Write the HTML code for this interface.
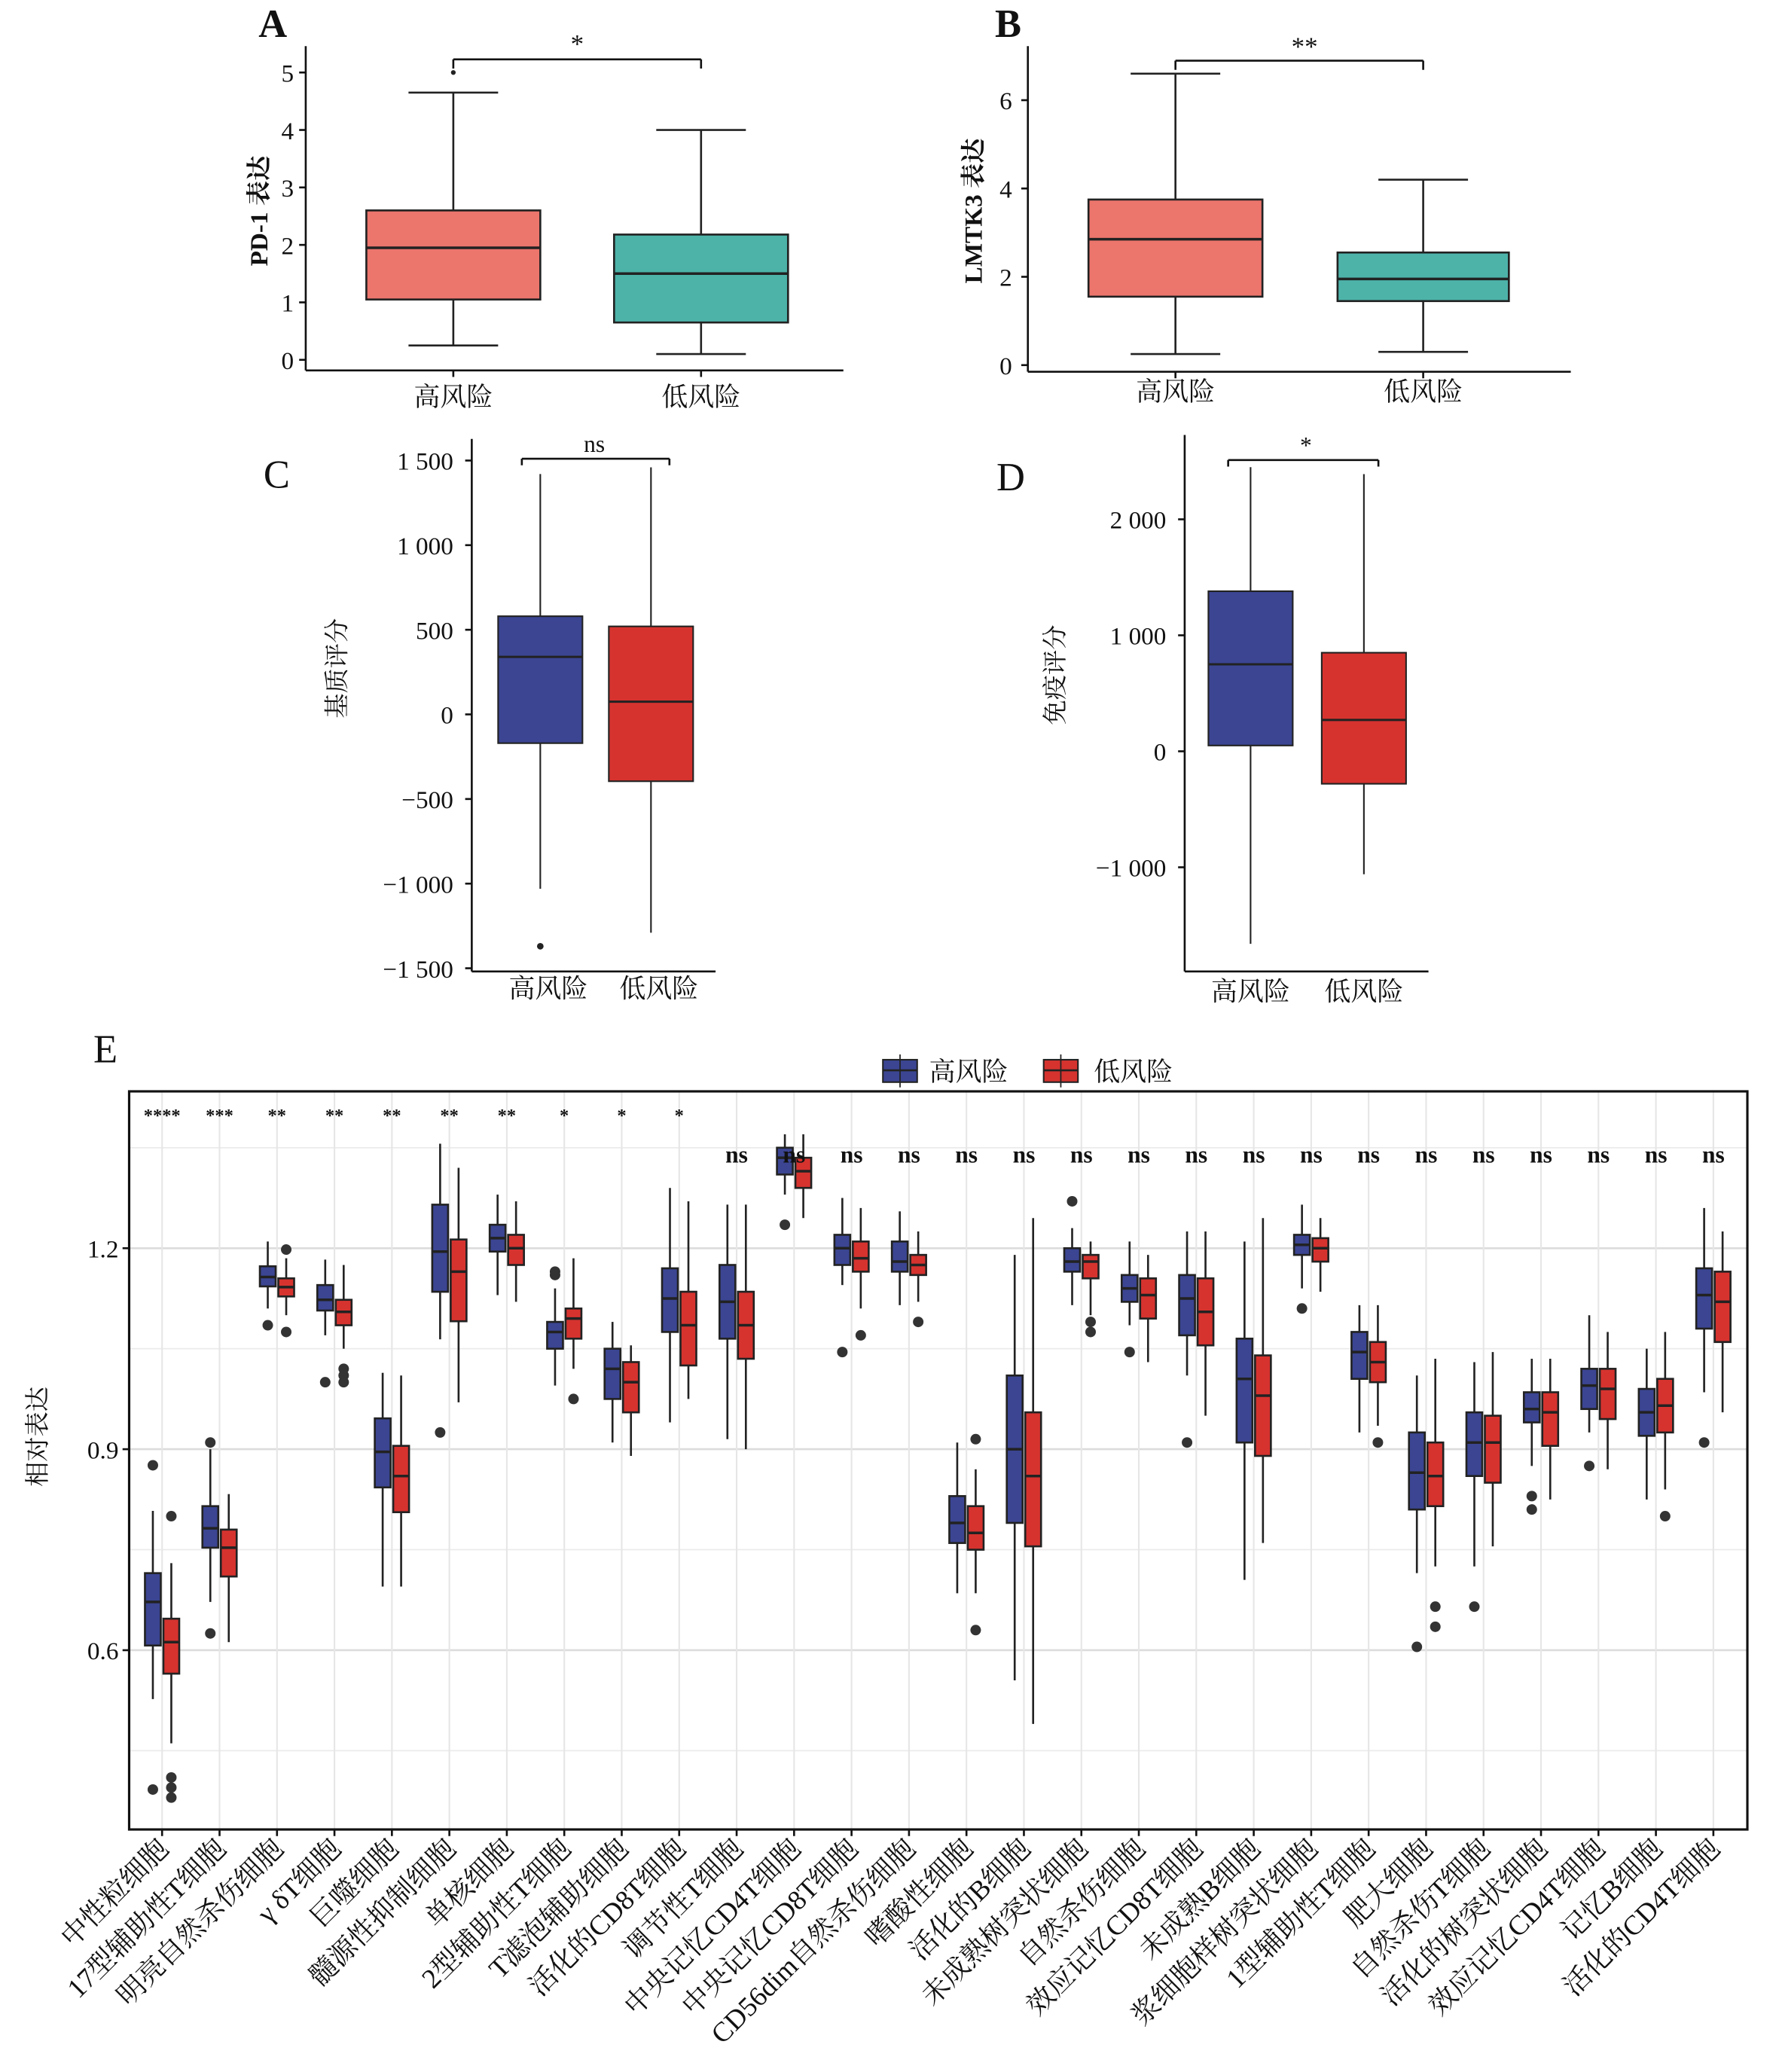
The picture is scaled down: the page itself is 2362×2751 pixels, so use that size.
<!DOCTYPE html>
<html><head><meta charset="utf-8"><style>
html,body{margin:0;padding:0;background:#fff}
svg{display:block}
text{font-family:"Liberation Serif","Noto Serif CJK SC","Noto Sans CJK SC",serif;fill:#111}
</style></head><body>
<svg id="s" xmlns="http://www.w3.org/2000/svg" width="2362" height="2751" viewBox="0 0 1350 1572" preserveAspectRatio="none"></svg>
<script>
const S=document.getElementById('s');const NS='http://www.w3.org/2000/svg';
function el(t,a,txt){const e=document.createElementNS(NS,t);for(const k in a)e.setAttribute(k,a[k]);if(txt!==undefined)e.textContent=txt;S.appendChild(e);return e;}
function line(x1,y1,x2,y2,c,w){el('line',{x1,y1,x2,y2,stroke:c||'#111','stroke-width':w||1.5});}
function txt(x,y,s,sz,anc,extra){const a={x,y,'font-size':sz,'text-anchor':anc||'middle'};Object.assign(a,extra||{});return el('text',a,s);}
function box(cx,hw,cw,q1,q3,med,lo,hi,fill,sw){
 line(cx,hi,cx,q3,'#222',sw);line(cx,q1,cx,lo,'#222',sw);
 if(cw){line(cx-cw,hi,cx+cw,hi,'#222',sw);line(cx-cw,lo,cx+cw,lo,'#222',sw);}
 el('rect',{x:cx-hw,y:q3,width:2*hw,height:q1-q3,fill,stroke:'#222','stroke-width':sw});
 line(cx-hw,med,cx+hw,med,'#222',sw+0.5);
}
// Panel A
txt(207,28,'A',30,'middle',{'font-weight':'bold'});
line(232,35,232,281);line(232,281,640,281);
let yA=v=>273-v*43.6;
[0,1,2,3,4,5].forEach(v=>{line(227,yA(v),232,yA(v));txt(223,yA(v)+7,v,19,'end');});
txt(0,0,'PD-1 表达',19,'middle',{transform:'translate(203,160) rotate(-90)','font-weight':'bold'});
box(344,66,34,yA(1.05),yA(2.6),yA(1.95),yA(0.25),yA(4.65),'#EC756C',1.5);
el('circle',{cx:344,cy:yA(5),r:1.8,fill:'#222'});
box(532,66,34,yA(0.65),yA(2.18),yA(1.5),yA(0.1),yA(4.0),'#4DB3A9',1.5);
line(344,52,344,45);line(344,45,532,45);line(532,45,532,52);
txt(438,40,'*',20);
line(344,281,344,286);line(532,281,532,286);
txt(344,308,'高风险',20);txt(532,308,'低风险',20);
// Panel B
txt(765,28,'B',30,'middle',{'font-weight':'bold'});
line(780,35,780,282);line(780,282,1192,282);
let yB=v=>277-v*33.5;
[0,2,4,6].forEach(v=>{line(775,yB(v),780,yB(v));txt(768,yB(v)+7,v,19,'end');});
txt(0,0,'LMTK3 表达',19,'middle',{transform:'translate(745,160) rotate(-90)','font-weight':'bold'});
box(892,66,34,yB(1.55),yB(3.75),yB(2.85),yB(0.25),yB(6.6),'#EC756C',1.5);
box(1080,65,34,yB(1.45),yB(2.55),yB(1.95),yB(0.3),yB(4.2),'#4DB3A9',1.5);
line(892,53,892,46);line(892,46,1080,46);line(1080,46,1080,53);
txt(990,42,'**',20);
line(892,282,892,287);line(1080,282,1080,287);
txt(892,304,'高风险',20);txt(1080,304,'低风险',20);
// Panel C
txt(210,370,'C',30);
line(358,333,358,737);line(358,737,543,737);
let yC=v=>542-v*0.1284;
[1500,1000,500,0,-500,-1000,-1500].forEach(v=>{line(353,yC(v),358,yC(v));txt(344,yC(v)+7,(v<0?'−':'')+(Math.abs(v)>=1000?Math.floor(Math.abs(v)/1000)+' '+String(Math.abs(v)%1000).padStart(3,'0'):Math.abs(v)),19,'end');});
txt(0,0,'基质评分',19,'middle',{transform:'translate(262,507) rotate(-90)'});
box(410,32,0,yC(-170),yC(580),yC(340),yC(-1030),yC(1420),'#3B4592',1.2);
el('circle',{cx:410,cy:yC(-1370),r:2.5,fill:'#222'});
box(494,32,0,yC(-395),yC(520),yC(75),yC(-1290),yC(1460),'#D6332F',1.2);
line(396,353,396,348);line(396,348,508,348);line(508,348,508,353);
txt(451,343,'ns',18);
txt(416,757,'高风险',20);txt(500,757,'低风险',20);
// Panel D
txt(767,372,'D',30);
line(899,330,899,737);line(899,737,1084,737);
let yD=v=>570-v*0.088;
[[2000,'2 000'],[1000,'1 000'],[0,'0'],[-1000,'−1 000']].forEach(([v,l])=>{line(894,yD(v),899,yD(v));txt(885,yD(v)+7,l,19,'end');});
txt(0,0,'免疫评分',19,'middle',{transform:'translate(807,512) rotate(-90)'});
box(949,32,0,yD(50),yD(1380),yD(750),yD(-1660),yD(2450),'#3B4592',1.2);
box(1035,32,0,yD(-280),yD(850),yD(270),yD(-1060),yD(2390),'#D6332F',1.2);
line(932,354,932,349);line(932,349,1046,349);line(1046,349,1046,354);
txt(991,344,'*',18);
txt(949,759,'高风险',20);txt(1035,759,'低风险',20);
// Panel E
txt(80,806,'E',30);
el('rect',{x:670,y:804,width:26,height:17,fill:'#3B4592',stroke:'#222','stroke-width':1.2});line(670,812,696,812,'#222',1.5);line(683,800,683,825,'#222',1);
txt(705,820,'高风险',20,'start');
el('rect',{x:792,y:804,width:26,height:17,fill:'#D6332F',stroke:'#222','stroke-width':1.2});line(792,812,818,812,'#222',1.5);line(805,800,805,825,'#222',1);
txt(830,820,'低风险',20,'start');
let yE=v=>947+(1.2-v)*508.3;
const X0=98,X1=1326,Y0=828,Y1=1388;
[0.45,0.75,1.05,1.35].forEach(v=>line(X0,yE(v),X1,yE(v),'#ebebeb',1));
[0.6,0.9,1.2].forEach(v=>line(X0,yE(v),X1,yE(v),'#dcdcdc',1.5));
const cx=i=>123+i*43.6;
for(let i=0;i<28;i++)line(cx(i),Y0,cx(i),Y1,'#e6e6e6',1.2);
el('rect',{x:X0,y:Y0,width:X1-X0,height:Y1-Y0,fill:'none',stroke:'#111','stroke-width':1.8});
[0.6,0.9,1.2].forEach(v=>{line(X0-5,yE(v),X0,yE(v));txt(X0-8,yE(v)+7,v.toFixed(1),19,'end');});
txt(0,0,'相对表达',19,'middle',{transform:'translate(35,1090) rotate(-90)'});
const D=[
['中性粒细胞',[.607,.715,.672,.527,.808,[.876,.392]],[.565,.647,.612,.461,.73,[.80,.41,.395,.38]]],
['17型辅助性T细胞',[.753,.815,.782,.672,.9,[.91,.625]],[.71,.78,.753,.612,.833,[]]],
['明亮自然杀伤细胞',[1.143,1.173,1.157,1.11,1.21,[1.085]],[1.128,1.155,1.142,1.1,1.185,[1.198,1.075]]],
['γ δT细胞',[1.107,1.145,1.123,1.07,1.183,[1.0]],[1.085,1.123,1.105,1.05,1.175,[1.02,1.01,1.0]]],
['巨噬细胞',[.843,.946,.896,.695,1.014,[]],[.806,.905,.86,.695,1.01,[]]],
['髓源性抑制细胞',[1.135,1.265,1.195,1.064,1.356,[.925]],[1.091,1.213,1.165,.97,1.32,[]]],
['单核细胞',[1.195,1.235,1.215,1.13,1.28,[]],[1.175,1.22,1.2,1.12,1.27,[]]],
['2型辅助性T细胞',[1.05,1.09,1.075,.995,1.14,[1.16,1.165]],[1.065,1.11,1.095,1.02,1.185,[.975]]],
['T滤泡辅助细胞',[.975,1.05,1.02,.91,1.09,[]],[.955,1.03,1.0,.89,1.055,[]]],
['活化的CD8T细胞',[1.075,1.17,1.125,.94,1.29,[]],[1.025,1.135,1.085,.975,1.27,[]]],
['调节性T细胞',[1.065,1.175,1.12,.915,1.265,[]],[1.035,1.135,1.085,.9,1.265,[]]],
['中央记忆CD4T细胞',[1.31,1.35,1.335,1.28,1.37,[1.235]],[1.29,1.335,1.315,1.245,1.37,[]]],
['中央记忆CD8T细胞',[1.175,1.22,1.2,1.145,1.275,[1.045]],[1.165,1.21,1.185,1.11,1.26,[1.07]]],
['CD56dim自然杀伤细胞',[1.165,1.21,1.18,1.115,1.255,[]],[1.16,1.19,1.175,1.12,1.225,[1.09]]],
['嗜酸性细胞',[.76,.83,.79,.685,.91,[]],[.75,.815,.775,.685,.87,[.915,.63]]],
['活化的B细胞',[.79,1.01,.9,.555,1.19,[]],[.755,.955,.86,.49,1.245,[]]],
['未成熟树突状细胞',[1.165,1.2,1.18,1.115,1.23,[1.27]],[1.155,1.19,1.18,1.1,1.21,[1.09,1.075]]],
['自然杀伤细胞',[1.12,1.16,1.14,1.085,1.21,[1.045]],[1.095,1.155,1.13,1.03,1.19,[]]],
['效应记忆CD8T细胞',[1.07,1.16,1.125,1.01,1.225,[.91]],[1.055,1.155,1.105,.95,1.225,[]]],
['未成熟B细胞',[.91,1.065,1.005,.705,1.21,[]],[.89,1.04,.98,.76,1.245,[]]],
['浆细胞样树突状细胞',[1.19,1.22,1.205,1.14,1.265,[1.11]],[1.18,1.215,1.2,1.135,1.245,[]]],
['1型辅助性T细胞',[1.005,1.075,1.045,.925,1.115,[]],[1.0,1.06,1.03,.935,1.115,[.91]]],
['肥大细胞',[.81,.925,.865,.715,1.01,[.605]],[.815,.91,.86,.725,1.035,[.665,.635]]],
['自然杀伤T细胞',[.86,.955,.91,.725,1.03,[.665]],[.85,.95,.91,.755,1.045,[]]],
['活化的树突状细胞',[.94,.985,.96,.875,1.035,[.83,.81]],[.905,.985,.955,.825,1.035,[]]],
['效应记忆CD4T细胞',[.96,1.02,.995,.925,1.1,[.875]],[.945,1.02,.99,.87,1.075,[]]],
['记忆B细胞',[.92,.99,.955,.825,1.05,[]],[.925,1.005,.965,.84,1.075,[.8]]],
['活化的CD4T细胞',[1.08,1.17,1.13,.985,1.26,[.91]],[1.06,1.165,1.12,.955,1.225,[]]]];
const sig=['****','***','**','**','**','**','**','*','*','*'];
D.forEach((d,i)=>{
 const c=cx(i);
 [[d[1],c-7,'#3B4592'],[d[2],c+7,'#D6332F']].forEach(([b,x,f])=>{
  box(x,6,0,yE(b[0]),yE(b[1]),yE(b[2]),yE(b[3]),yE(b[4]),f,1.5);
  b[5].forEach(o=>el('circle',{cx:x,cy:yE(o),r:4,fill:'#333'}));
 });
 line(c,Y1,c,Y1+5,'#111',1.5);
 if(i<10)txt(c,851,sig[i],14,'middle',{'font-weight':'bold'});
 else txt(c,882,'ns',18,'middle',{'font-weight':'bold'});
 txt(0,0,d[0],21,'end',{transform:`translate(${c+6},${Y1+16}) rotate(-45)`});
});
</script>
</body></html>
